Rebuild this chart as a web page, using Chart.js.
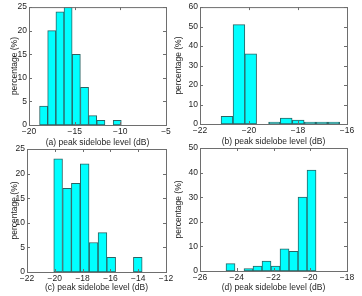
<!DOCTYPE html>
<html>
<head>
<meta charset="utf-8">
<script src="https://cdn.jsdelivr.net/npm/chart.js@4.4.1/dist/chart.umd.min.js"></script>
<style>
  html, body { margin: 0; padding: 0; background: #fff; }
  #wrap { position: relative; width: 362px; height: 296px; }
  #wrap canvas { position: absolute; left: 0; top: 0; }
</style>
</head>
<body>
<div id="wrap">
  <canvas id="ca" width="362" height="296"></canvas>
  <canvas id="cb" width="362" height="296"></canvas>
  <canvas id="cc" width="362" height="296"></canvas>
  <canvas id="cd" width="362" height="296"></canvas>
</div>
<script>
// bin centres (dB) and percentages
const binsA = [-18.40, -17.51, -16.61, -15.72, -14.82, -13.92, -13.03, -12.13, -11.24, -10.34];
const pctA  = [4, 20, 24, 25, 15, 8, 2, 1, 0, 1];
const binsB = [-20.90, -20.41, -19.93, -19.45, -18.96, -18.48, -17.99, -17.51, -17.03, -16.54];
const pctB  = [4, 51, 36, 0, 1, 3, 2, 1, 1, 1];
const binsC = [-19.76, -19.12, -18.49, -17.85, -17.21, -16.57, -15.94, -15.30, -14.66, -14.03];
const pctC  = [23, 17, 18, 22, 6, 8, 3, 0, 0, 3];
const binsD = [-24.34, -23.85, -23.36, -22.87, -22.38, -21.89, -21.40, -20.91, -20.42, -19.93];
const pctD  = [3, 0, 1, 2, 4, 2, 9, 8, 30, 41];

const xRanges = [[-20, -5, 5], [-22, -16, 2], [-22, -12, 2], [-26, -18, 2]];
const yRanges = [[0, 25, 5], [0, 60, 10], [0, 25, 5], [0, 50, 10]];
const xTitles = ['(a) peak sidelobe level (dB)', '(b) peak sidelobe level (dB)',
                 '(c) peak sidelobe level (dB)', '(d) peak sidelobe level (dB)'];
const yTitle = 'percentage (%)';

const FONT = { family: '"Liberation Sans", Arial, sans-serif', size: 8.5 };
const TXT = '#1e1e1e';

// box of each panel on the page: plot area, y-title centre x, x-title centre y
const boxes = [
  { L: 29,  T: 6,   R: 166, B: 125, yt: 15,  xt: 143 },
  { L: 200, T: 6,   R: 347, B: 124, yt: 179, xt: 142 },
  { L: 27,  T: 149, R: 166, B: 272, yt: 15,  xt: 288 },
  { L: 200, T: 148, R: 347, B: 271, yt: 179, xt: 288 }
];

const minus = v => String(v).replace('-', '\u2212');

// matlab-like box with inward ticks
const frame = {
  id: 'frame',
  afterDraw(chart) {
    const { ctx, chartArea: a, scales: { x, y } } = chart;
    ctx.save();
    ctx.strokeStyle = '#6e6e6e';
    ctx.lineWidth = 1;
    ctx.strokeRect(a.left + 0.5, a.top + 0.5, a.right - a.left, a.bottom - a.top);
    ctx.beginPath();
    x.ticks.forEach(t => {
      const px = Math.round(x.getPixelForValue(t.value)) + 0.5;
      ctx.moveTo(px, a.bottom); ctx.lineTo(px, a.bottom - 3);
      ctx.moveTo(px, a.top);    ctx.lineTo(px, a.top + 3);
    });
    y.ticks.forEach(t => {
      const py = Math.round(y.getPixelForValue(t.value)) + 0.5;
      ctx.moveTo(a.left, py);  ctx.lineTo(a.left + 3, py);
      ctx.moveTo(a.right, py); ctx.lineTo(a.right - 3, py);
    });
    ctx.stroke();
    ctx.restore();
  }
};

function histogram(id, bins, pct, i) {
  const b = boxes[i];
  const lh = FONT.size * 1.2;
  const padL = Math.round(b.yt - lh / 2);
  const padB = Math.round(296 - b.xt - lh / 2);
  return new Chart(document.getElementById(id), {
    type: 'bar',
    data: {
      datasets: [{
        data: bins.map((c, k) => ({ x: c, y: pct[k] })),
        backgroundColor: '#00ffff',
        borderColor: '#2c6464',
        borderWidth: 1,
        borderSkipped: false,
        barPercentage: 1,
        categoryPercentage: 1
      }]
    },
    options: {
      responsive: false,
      animation: false,
      events: [],
      layout: { padding: { left: padL, top: b.T, right: 362 - b.R, bottom: padB } },
      plugins: { legend: { display: false }, tooltip: { enabled: false } },
      scales: {
        x: {
          type: 'linear',
          offset: false,
          min: xRanges[i][0], max: xRanges[i][1],
          grid: { display: false, drawTicks: false },
          border: { display: false },
          ticks: { stepSize: xRanges[i][2], font: FONT, color: TXT, padding: 2, maxRotation: 0,
                   callback: minus },
          title: { display: true, text: xTitles[i], font: FONT, color: TXT, padding: 0 },
          afterFit(s) { s.height = (296 - padB) - b.B; }
        },
        y: {
          min: yRanges[i][0], max: yRanges[i][1],
          grid: { display: false, drawTicks: false },
          border: { display: false },
          ticks: { stepSize: yRanges[i][2], font: FONT, color: TXT, padding: 2 },
          title: { display: true, text: yTitle, font: FONT, color: TXT, padding: 0 },
          afterFit(s) { s.width = b.L - padL; }
        }
      }
    },
    plugins: [frame]
  });
}

histogram('ca', binsA, pctA, 0);
histogram('cb', binsB, pctB, 1);
histogram('cc', binsC, pctC, 2);
histogram('cd', binsD, pctD, 3);
</script>
</body>
</html>
